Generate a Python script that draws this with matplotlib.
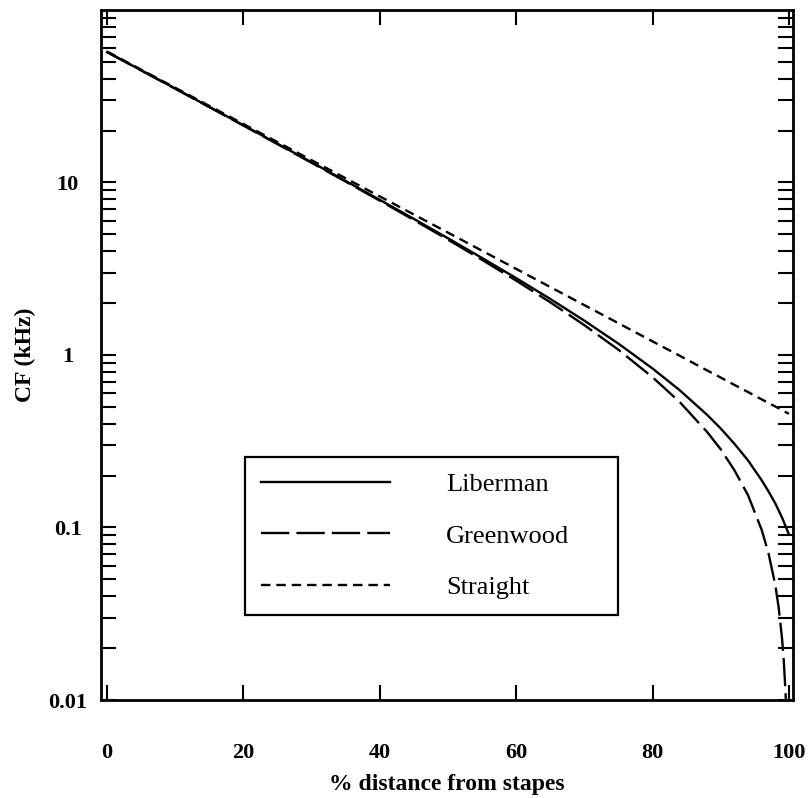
import matplotlib
matplotlib.use("Agg")
import matplotlib.pyplot as plt
from matplotlib.ticker import LogLocator, FixedLocator, NullFormatter, FixedFormatter

plt.rcParams['font.family'] = ['Liberation Serif', 'DejaVu Serif']

# Percent distance from the stapes
distance = [0, 5, 10, 15, 20, 25, 30, 35, 40, 45, 50, 55, 60, 65, 70, 75,
            80, 84, 88, 90, 92, 94, 96, 97, 98, 99, 99.5, 100]

# Characteristic frequency (kHz) for each map
liberman = [57.04, 44.72, 35.03, 27.43, 21.46, 16.77, 13.09, 10.20, 7.93,
            6.15, 4.75, 3.65, 2.790, 2.113, 1.581, 1.163, 0.835, 0.624,
            0.450, 0.375, 0.306, 0.245, 0.188, 0.162, 0.138, 0.114, 0.102,
            0.0912]

straight = [57.41, 45.08, 35.39, 27.79, 21.82, 17.14, 13.46, 10.57, 8.30,
            6.52, 5.12, 4.02, 3.155, 2.477, 1.945, 1.528, 1.199, 0.989,
            0.814, 0.740, 0.671, 0.610, 0.553, 0.527, 0.503, 0.479, 0.467,
            0.456]

greenwood_distance = [0, 5, 10, 15, 20, 25, 30, 35, 40, 45, 50, 55, 60, 65,
                      70, 75, 80, 84, 88, 90, 92, 94, 96, 97, 98, 98.5, 99,
                      99.25, 99.5, 99.6]
greenwood = [56.95, 44.62, 34.94, 27.34, 21.37, 16.68, 13.00, 10.11, 7.84,
             6.06, 4.66, 3.56, 2.699, 2.021, 1.489, 1.072, 0.743, 0.533,
             0.358, 0.284, 0.215, 0.154, 0.0971, 0.0711, 0.0465, 0.0343,
             0.0226, 0.0168, 0.0112, 0.0089]

x_ticks = [0, 20, 40, 60, 80, 100]
y_ticks = [0.01, 0.1, 1, 10]
y_tick_labels = ['0.01', '0.1', '1', '10']

fig = plt.figure(figsize=(8.11, 7.98), dpi=100)
ax = fig.add_axes([0.1245, 0.1228, 0.8533, 0.8647])

lw = 1.7
ax.plot(distance, liberman, color='black', lw=lw, ls='-', label='Liberman')
ax.plot(greenwood_distance, greenwood, color='black', lw=lw,
        ls=(0, (12, 3)), label='Greenwood')
ax.plot(distance, straight, color='black', lw=lw,
        ls=(0, (4, 2.5)), label='Straight')

ax.set_yscale('log')
ax.set_xlim(-0.9, 100.6)
ax.set_ylim(0.01, 100)

ax.xaxis.set_major_locator(FixedLocator(x_ticks))
ax.yaxis.set_major_locator(FixedLocator(y_ticks))
ax.yaxis.set_major_formatter(FixedFormatter(y_tick_labels))
ax.yaxis.set_minor_locator(LogLocator(base=10, subs=range(2, 10), numticks=20))
ax.yaxis.set_minor_formatter(NullFormatter())

ax.tick_params(which='both', direction='in', top=True, right=True,
               length=11, width=1.5, labelsize=16)
ax.tick_params(axis='x', pad=31)
ax.tick_params(axis='y', pad=24)
for lab in ax.get_yticklabels() + ax.get_xticklabels():
    lab.set_fontweight('bold')
for lab in ax.get_yticklabels():
    lab.set_horizontalalignment('center')

for sp in ax.spines.values():
    sp.set_linewidth(2)

ax.set_xlabel('% distance from stapes', fontsize=17, fontweight='bold',
              labelpad=8)
ax.set_ylabel('CF (kHz)', fontsize=17, fontweight='bold', labelpad=9)

leg = ax.legend(loc='upper left',
                bbox_to_anchor=(0.2078, 0.3527 - 0.225, 0.539, 0.225),
                mode='expand',
                fontsize=19, frameon=True, fancybox=False, framealpha=1,
                edgecolor='black', handlelength=4.9, handletextpad=2.1,
                labelspacing=1.05, borderpad=0.62, borderaxespad=0)
leg.get_frame().set_linewidth(1.6)

fig.savefig('out.png', dpi=100)
